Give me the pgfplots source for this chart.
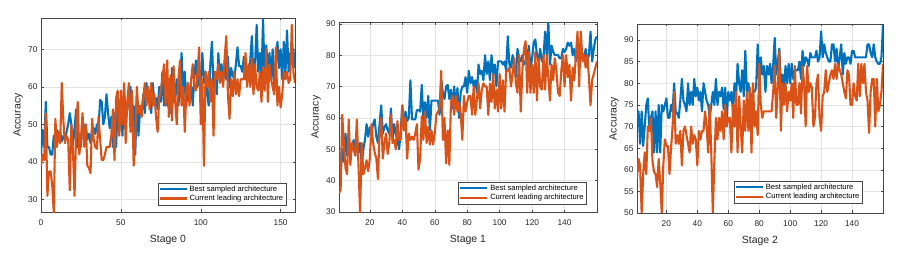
\documentclass[border=0pt]{standalone}
\usepackage{fontspec}
\setmainfont{Liberation Sans}
\usepackage{pgfplots}
\usepackage{pgfplotstable}
\pgfplotsset{compat=1.18}
\definecolor{mblue}{rgb}{0,0.447,0.741}
\definecolor{morange}{rgb}{0.850,0.325,0.098}
\definecolor{axgray}{gray}{0.15}

% Stage 0, best sampled (x = 0..159)
\pgfplotstableread[header=false,row sep=crcr]{
42\\48.5\\44\\56\\44\\44\\42\\42\\47\\45\\
48.5\\46\\48\\45.5\\47\\46\\48\\50\\53\\50\\
44.5\\49\\54\\44\\47.5\\44\\51.5\\48\\50\\46\\
47.5\\45\\48.5\\49\\47.5\\50\\49\\56.5\\56\\50\\
52\\58\\53\\49\\52\\44\\53\\44\\55\\48\\
56\\47\\59.5\\52\\54\\58\\60\\50\\55\\42\\
57\\47\\54\\53\\58\\53\\61\\57\\59\\53\\
61\\55\\57\\54\\60\\56\\64\\55\\58\\55\\
60\\53\\65\\56\\58\\62\\55\\60\\69\\57\\
64\\55\\61\\57\\60\\55\\63\\67\\60\\64\\
62\\69\\61\\64\\58\\55\\66\\72\\60\\64\\
58\\69\\62\\66\\61\\67\\62\\68\\60\\65\\
63\\62\\66\\70.5\\65.5\\65.5\\64\\68\\62\\65\\
63\\67\\73.5\\62\\66\\76.5\\64\\69\\62\\78\\
62\\71\\64\\69\\62\\70\\59\\66\\72\\65\\
70\\62\\72\\63\\75\\64\\69\\66\\70\\65\\
}\SzeroB
% Stage 0, current leading
\pgfplotstableread[header=false,row sep=crcr]{
39\\42\\40.5\\53\\31\\37.5\\37.5\\34\\26.5\\51.5\\
44\\48\\45\\61\\51\\45\\47\\46\\32.5\\50\\
43\\31\\48\\56\\42\\46\\53\\44\\50\\39\\
38.5\\37\\51.5\\46\\44\\43.5\\52\\46\\40.5\\40.5\\
42\\44\\44\\44\\47\\54\\40.5\\57\\59\\47\\
59\\50\\61\\45\\56\\61\\48\\59\\39\\46.5\\
60\\53\\55\\52\\57\\61\\55\\60\\54\\61\\
55\\58\\52\\48\\57\\59\\62\\66\\55\\67\\
52\\63\\51\\65.5\\56\\50\\62\\67\\55\\60\\
48\\59\\61\\55\\62\\66\\60\\59\\64\\70.5\\
50\\62\\39\\64\\60\\64\\56\\62\\47\\64\\
62\\66\\61\\64\\60\\68\\73.5\\58\\51.5\\62\\
57.5\\64\\58\\62\\57.5\\62\\62\\62\\69\\60\\
66\\60\\67.5\\58\\66\\60\\59\\64\\56\\65\\
59\\70\\56\\66\\62\\60\\58\\70.5\\55\\60\\
54.5\\58\\64\\62\\64\\61\\62\\76.5\\64\\61\\
}\SzeroO
% Stage 1, best sampled (x = 1..160)
\pgfplotstableread[header=false,row sep=crcr]{
50\\42\\50\\46\\55\\48\\52\\49\\50\\53\\
48\\53\\49\\52\\45\\50\\53\\58\\54\\57\\
55\\58\\59.5\\54\\52\\58\\64\\55\\57\\58\\
56\\55\\63\\53\\58\\55\\53\\50\\55\\64\\
58\\62\\59\\60\\72\\59.5\\59.5\\59.5\\62.5\\62.5\\
62\\70.5\\59\\65\\60\\67\\56\\65.5\\65.5\\65.5\\
65.5\\65.5\\61\\72\\68\\66\\70\\70.5\\66\\69\\
63\\70\\64\\69.5\\60\\68\\70\\70\\73\\68\\
75\\71\\73\\70\\72\\68\\77\\74\\75\\72\\
80\\74\\78\\72\\80\\74\\77\\70\\78\\78\\
78\\77\\78\\75\\86\\77\\76\\80\\76\\73\\
82\\79\\78\\80\\77\\78\\79\\83\\76\\79\\
84\\85\\80\\78\\82\\78\\79\\87.5\\80\\90.5\\
77\\83\\81\\80\\80\\80\\79\\79\\82\\81\\
82\\84\\83\\84\\80\\82\\78\\80\\82\\84\\
80\\79\\82\\78\\80\\87.5\\78\\82\\85\\86\\
}\SoneB
% Stage 1, current leading
\pgfplotstableread[header=false,row sep=crcr]{
36\\37\\61\\52\\44\\42\\59.5\\45\\52\\50\\
48\\59.5\\45\\29.5\\52\\42\\44\\46.5\\43\\47\\
58\\52\\49\\47\\40.5\\55\\60\\47\\52\\55\\
48.5\\52\\61\\52\\53\\50\\59\\53\\53\\64\\
56\\60\\47\\55\\53\\54\\53\\55\\58\\43.5\\
47\\60.5\\53\\62\\52\\57\\51.5\\56\\51.5\\55\\
61\\62\\63\\75\\53\\60\\45.5\\56\\45\\65\\
67\\61\\67\\62\\65\\61.5\\53\\67\\62\\65\\
67\\67\\61\\70\\61\\66\\71\\63\\69\\71\\
70\\70\\61\\71\\65\\74\\63\\69\\62\\74\\
63\\72\\62\\75\\75\\76\\70\\74\\79\\71\\
68\\80\\62\\75\\82\\84.5\\68\\81\\68\\77\\
68\\81\\65.5\\79\\70\\69\\80\\69\\80\\73\\
65.5\\77\\72\\79\\75\\68\\67\\75\\80\\70\\
80\\73\\77\\65.5\\76\\72\\80\\87.5\\70\\87.5\\
78\\80\\76\\80\\73\\64\\72\\74\\76\\78\\
}\SoneO
% Stage 2, best sampled (x = 1..160)
\pgfplotstableread[header=false,row sep=crcr]{
72\\73.5\\66\\73.5\\65.5\\70\\75\\76.5\\69\\72\\
73.5\\64\\73.5\\64\\75\\64\\75\\73.5\\75\\76.5\\
72\\72\\75\\73.5\\80\\73.5\\73\\72\\76\\81\\
76\\75\\73.5\\80\\75\\78\\75\\81\\77\\79\\
76\\78\\73.5\\80\\78\\76\\75\\72\\75\\78\\
75\\81\\75\\78\\77\\79\\74\\79\\72\\78\\
76\\78\\73.5\\80\\76\\84.5\\80\\78\\83\\77\\
87.5\\78\\80\\77\\77\\78\\78\\79\\89\\80\\
86\\82\\84\\78\\84\\82\\84.5\\80\\84\\90.5\\
82\\85\\88\\80\\82\\79\\84\\80\\84.5\\80\\
84.5\\81\\83\\83\\83\\85\\81\\87.5\\84\\86\\
85.5\\84\\87\\86\\86\\86\\87.5\\85\\86\\92\\
86\\89\\87\\86\\85\\85\\89\\89\\85\\88\\
83\\86\\89\\82\\87\\84.5\\86\\86\\84.5\\87.5\\
87.5\\86\\86\\86\\86\\86\\86\\86\\86\\89\\
89\\87\\86\\89\\86\\85\\84.5\\84.5\\86\\93.5\\
}\StwoB
% Stage 2, current leading
\pgfplotstableread[header=false,row sep=crcr]{
58\\62.5\\61\\50\\59\\64\\59\\70\\69\\72\\
62\\59.5\\59\\56\\62.5\\57\\50\\61\\67\\65.5\\
65.5\\59\\65\\70\\78\\66\\68\\66\\69\\61\\
69\\70\\68\\66\\64\\70\\66\\68\\67\\61\\
69\\67\\69\\69\\73.5\\70\\64\\75\\64\\50\\
62\\72\\67\\72\\69\\73.5\\67\\75\\70\\72\\
72\\64\\75\\70\\78\\64\\77\\70\\64\\76\\
69\\78\\69\\79\\64\\80\\70\\73.5\\68\\84.5\\
75\\72\\73.5\\73.5\\73.5\\73.5\\73.5\\73.5\\78\\84\\
72\\79\\87.5\\69\\80\\75\\80\\73.5\\78\\76\\
80\\72\\84\\75\\75\\80\\73\\84\\80\\70\\
84\\78\\80\\79\\70\\72\\80\\82\\72\\69\\
77\\78\\83\\78\\80\\82\\83\\81\\84.5\\81\\
84.5\\83\\82\\80\\78\\76.5\\83\\82\\75\\75\\
80\\77\\76\\84.5\\77\\84.5\\80\\84.5\\78\\76\\
68.5\\78\\81\\81\\70\\81\\73.5\\75\\78\\84.5\\
}\StwoO

\pgfplotsset{panel/.style={
  scale only axis, anchor=south west,
  axis line style={axgray!85, line width=0.5bp},
  grid=major, major grid style={gray!22, line width=0.4bp},
  tick style={axgray!85, line width=0.4bp}, major tick length=2.5bp,
  tick align=inside,
  ticklabel style={font=\fontsize{8.4}{9}\selectfont, text=axgray},
  xticklabel style={yshift=-4bp},
  /pgf/number format/assume math mode=true,
  label style={font=\fontsize{10.5}{12}\selectfont, text=axgray},
  xlabel style={at={([yshift=-27.5bp]axis description cs:0.5,0)}, anchor=center},
  ylabel style={at={([xshift=-23bp]axis description cs:0,0.5)}, anchor=center},
  legend style={font=\fontsize{7.6}{9}\selectfont, draw=axgray!85, line width=0.4bp,
    inner sep=0.8bp, anchor=south east, cells={anchor=west}, row sep=-1.5bp},
  legend image code/.code={\draw[#1, line width=2.1bp] (0bp,0bp) -- (27bp,0bp);},
  every axis plot/.append style={line width=2.1bp, mark=none, line join=round},
}}

\begin{document}
\begin{tikzpicture}
\path[use as bounding box] (0,0) rectangle (899bp,255bp);

\begin{axis}[panel, at={(41bp,43bp)}, width=254bp, height=194bp,
  xmin=0, xmax=159, ymin=26.7, ymax=78.3,
  xtick={0,50,100,150}, ytick={30,40,50,60,70},
  xlabel={Stage 0}, ylabel={Accuracy},
  legend style={at={(0.965,0.036)}}]
\addplot[mblue] table[x expr=\coordindex, y index=0] {\SzeroB};
\addplot[morange] table[x expr=\coordindex, y index=0] {\SzeroO};
\legend{Best sampled architecture, Current leading architecture}
\end{axis}

\begin{axis}[panel, at={(339bp,43bp)}, width=258bp, height=189.5bp,
  xmin=1, xmax=160, ymin=30, ymax=90.4,
  xtick={20,40,...,140}, ytick={30,40,...,90},
  xlabel={Stage 1}, ylabel={Accuracy},
  legend style={at={(0.96,0.042)}}]
\addplot[mblue] table[x expr=\coordindex+1, y index=0] {\SoneB};
\addplot[morange] table[x expr=\coordindex+1, y index=0] {\SoneO};
\legend{Best sampled architecture, Current leading architecture}
\end{axis}

\begin{axis}[panel, at={(637bp,42bp)}, width=246bp, height=189bp,
  xmin=1, xmax=160, ymin=50, ymax=93.7,
  xtick={20,40,...,140}, ytick={50,55,...,90},
  xlabel={Stage 2}, ylabel={Accuracy},
  legend style={at={(0.916,0.051)}}]
\addplot[mblue] table[x expr=\coordindex+1, y index=0] {\StwoB};
\addplot[morange] table[x expr=\coordindex+1, y index=0] {\StwoO};
\legend{Best sampled architecture, Current leading architecture}
\end{axis}
\end{tikzpicture}
\end{document}
